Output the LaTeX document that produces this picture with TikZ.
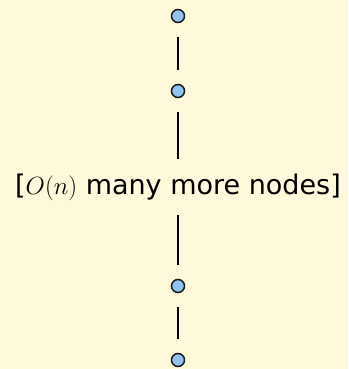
\documentclass[tikz,border=0pt]{standalone}
\usepackage{fontspec}
\setmainfont{DejaVu Sans}
\usetikzlibrary{positioning}
\definecolor{paper}{HTML}{FEF9DB}
\definecolor{dotblue}{HTML}{8EC5F0}
\begin{document}
\begin{tikzpicture}[
    x=1pt, y=1pt,
    dot/.style={circle, draw=black!90, line width=1.5pt, fill=dotblue, minimum size=13pt, inner sep=0pt},
    gap/.style={inner xsep=2pt, inner ysep=0pt, font=\fontsize{27}{32}\selectfont},
    link/.style={draw, line width=1.8pt, shorten <=14pt, shorten >=14pt}
]
\fill[paper] (0,0) rectangle (348,369);

\node[dot] (top) at (178,353) {};
\node[dot] (second) at (178,278) {};
\node[gap] (more) at (178,182) {[$O(n)$ many more nodes]};
\node[dot] (third) at (178,83) {};
\node[dot] (bottom) at (178,9) {};

\draw[link] (top) -- (second);
\draw[link] (second) -- (more);
\draw[link] (more) -- (third);
\draw[link] (third) -- (bottom);
\end{tikzpicture}
\end{document}
